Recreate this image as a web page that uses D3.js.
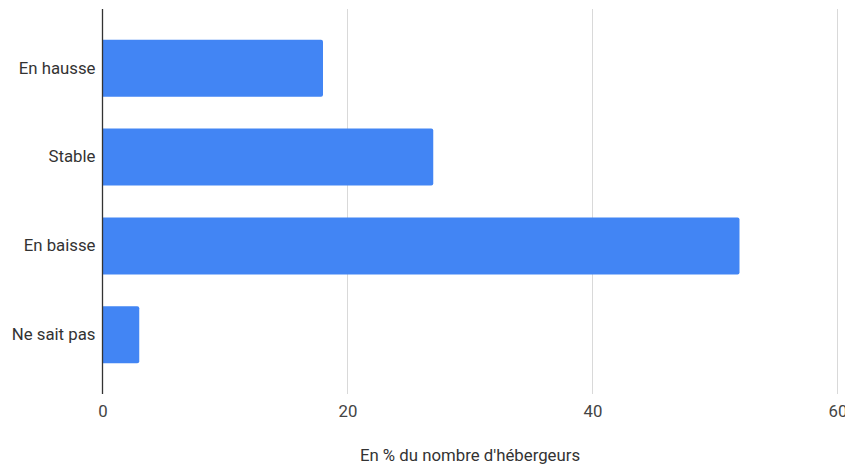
<!DOCTYPE html>
<html><head><meta charset="utf-8">
<script src="https://cdn.jsdelivr.net/npm/d3@7"></script>
<style>body{margin:0;background:#fff}text{font-family:Roboto,"Liberation Sans",Arial,sans-serif}</style>
</head><body><svg id="c" width="845" height="465"></svg>
<script>
const categories = ["En hausse","Stable","En baisse","Ne sait pas"];
const values = [18,27,52,3];
const xTicks = [0,20,40,60];
const xTitle = "En % du nombre d'hébergeurs";

const FS = 16.8;
const svg = d3.select("#c");
const x = d3.scaleLinear().domain([0,60]).range([102.5,837.5]);
const y = d3.scaleBand().domain(categories).range([9,394]).paddingInner(0.358).paddingOuter(0.347);

svg.append("g").selectAll("line").data(xTicks.filter(t=>t>0)).join("line")
  .attr("x1",d=>x(d)).attr("x2",d=>x(d)).attr("y1",9).attr("y2",394)
  .attr("stroke","#d9d9d9").attr("stroke-width",1);

svg.append("g").selectAll("path").data(values).join("path")
  .attr("fill","#4285f4")
  .attr("d",(d,i)=>{
    const x0=x(0), x1=x(d), y0=y(categories[i]), h=y.bandwidth(), r=2;
    return `M${x0},${y0}H${x1-r}Q${x1},${y0} ${x1},${y0+r}V${y0+h-r}Q${x1},${y0+h} ${x1-r},${y0+h}H${x0}Z`;
  });

svg.append("line").attr("x1",x(0)).attr("x2",x(0)).attr("y1",9).attr("y2",394)
  .attr("stroke","#333").attr("stroke-width",1.3);

const xa = d3.axisBottom(x).tickValues(xTicks).tickSize(0).tickPadding(0);
const gx = svg.append("g").attr("transform","translate(0,417)").call(xa);
gx.select(".domain").remove();
gx.selectAll("text").attr("font-size",FS).attr("fill","#444").attr("y",0).attr("dy",0).style("font-family","Roboto,'Liberation Sans',Arial,sans-serif");

const ya = d3.axisLeft(y).tickSize(0).tickPadding(7);
const gy = svg.append("g").attr("transform",`translate(${x(0)},0)`).call(ya);
gy.select(".domain").remove();
gy.selectAll("text").attr("font-size",FS).attr("fill","#333").style("font-family","Roboto,'Liberation Sans',Arial,sans-serif");

svg.append("text").attr("x",470).attr("y",461).attr("text-anchor","middle")
  .attr("font-size",FS).attr("fill","#333").text(xTitle);
</script></body></html>
